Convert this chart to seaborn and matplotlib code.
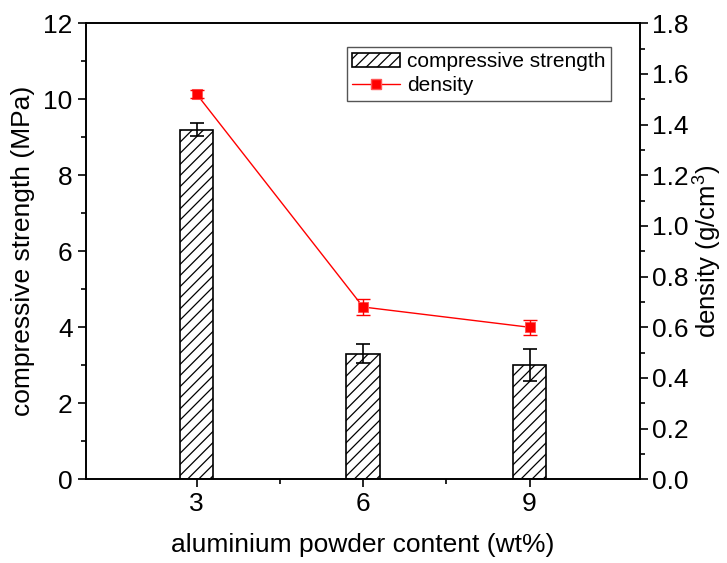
import matplotlib
matplotlib.use("Agg")
import matplotlib.pyplot as plt
import seaborn as sns
import pandas as pd
import numpy as np
from matplotlib.ticker import MultipleLocator, FixedLocator
from matplotlib.patches import Patch
from matplotlib.lines import Line2D

content = [3, 6, 9]
strength = [9.2, 3.3, 3.0]
strength_err = [0.18, 0.25, 0.42]
density = [1.52, 0.68, 0.60]
density_err = [0.015, 0.03, 0.03]

sns.set_style("ticks")
plt.rcParams['font.family'] = ['Liberation Sans', 'DejaVu Sans']
plt.rcParams['hatch.linewidth'] = 0.9
plt.rcParams['mathtext.fontset'] = 'custom'
plt.rcParams['mathtext.rm'] = 'Liberation Sans'
for k in ('text.color', 'axes.labelcolor', 'xtick.color', 'ytick.color'):
    plt.rcParams[k] = 'black'

fig = plt.figure(figsize=(7.27, 5.63), dpi=100)
ax = fig.add_axes([0.118, 0.1487, 0.763, 0.81])

df = pd.DataFrame({"content": content, "strength": strength})
sns.barplot(data=df, x="content", y="strength", native_scale=True, width=0.2,
            errorbar=None, color="white", edgecolor="black", linewidth=1.2,
            hatch="///", ax=ax)
for p in ax.patches:
    p.set_hatch("///")
    p.set_facecolor("white")
    p.set_edgecolor("black")
ax.errorbar(content, strength, yerr=strength_err, fmt="none", ecolor="black",
            elinewidth=1.2, capsize=5, capthick=1.2, zorder=5)

ax.set_xlim(1, 11)
ax.set_ylim(0, 12)
ax.xaxis.set_major_locator(FixedLocator([3, 6, 9]))
ax.xaxis.set_minor_locator(FixedLocator([4.5, 7.5]))
ax.yaxis.set_major_locator(MultipleLocator(2))
ax.yaxis.set_minor_locator(MultipleLocator(1))
ax.set_xlabel("aluminium powder content (wt%)", fontsize=19, labelpad=12)
ax.set_ylabel("compressive strength (MPa)", fontsize=19, labelpad=6)

ax2 = ax.twinx()
dfd = pd.DataFrame({"content": content, "density": density})
sns.lineplot(data=dfd, x="content", y="density", color="red", linewidth=1.0,
             marker="s", markersize=6.5, markeredgecolor="#ff5555", ax=ax2)
ax2.errorbar(content, density, yerr=density_err, fmt="none", ecolor="red",
             elinewidth=1.0, capsize=5, capthick=1.0, zorder=5)
ax2.set_ylim(0, 1.8)
ax2.yaxis.set_major_locator(MultipleLocator(0.2))
ax2.yaxis.set_minor_locator(MultipleLocator(0.1))
ax2.yaxis.set_major_formatter(matplotlib.ticker.FormatStrFormatter("%.1f"))
ax2.set_ylabel("density (g/cm$^3$)", fontsize=18.5, labelpad=1)
ax2.set_xlim(1, 11)

for a in (ax, ax2):
    for s in a.spines.values():
        s.set_visible(True)
        s.set_linewidth(1.2)
        s.set_color("black")
    a.tick_params(which="major", direction="out", length=6, width=1.2,
                  labelsize=19, color="black", labelcolor="black")
    a.tick_params(which="minor", direction="out", length=3.5, width=1.2,
                  color="black")
ax.tick_params(axis="x", which="both", top=False)
ax2.tick_params(axis="y", which="both", left=False, right=True, pad=2.5)

handles = [Patch(facecolor="white", edgecolor="black", hatch="///", linewidth=1.2),
           Line2D([], [], color="red", linewidth=1.0, marker="s", markersize=6.5,
                  markeredgecolor="#ff5555")]
leg = ax2.legend(handles, ["compressive strength", "density"], loc="upper left",
                 bbox_to_anchor=(0.471, 0.948), fontsize=15, frameon=True,
                 fancybox=False, edgecolor="#555555", framealpha=1,
                 borderpad=0.25, handlelength=2.3, handletextpad=0.35,
                 labelspacing=0.25, borderaxespad=0)
leg.get_frame().set_linewidth(1.0)
for t in leg.get_texts():
    t.set_color("black")

fig.savefig("out.png", dpi=100)
